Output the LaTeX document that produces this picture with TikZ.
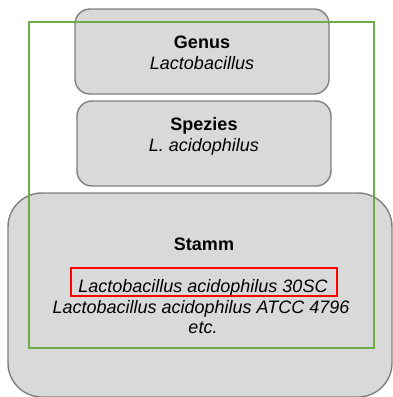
\documentclass[tikz,border=0pt]{standalone}
\usepackage{fontspec}
\setmainfont{Liberation Sans}
\definecolor{tierfill}{HTML}{D9D9D9}
\definecolor{tierline}{HTML}{7F7F7F}
\definecolor{frameGreen}{HTML}{70AD47}
\definecolor{markRed}{HTML}{FF0000}
\begin{document}
\begin{tikzpicture}[x=1pt,y=-1pt,
  tier/.style={draw=tierline, fill=tierfill, line width=1.4pt,
    rounded corners=#1, inner sep=0pt, outer sep=0pt, anchor=north west},
  caption/.style={anchor=base, inner sep=0pt,
    font=\fontsize{18}{20.5}\selectfont},
  frame/.style={draw=#1, line width=1.4pt, inner sep=0pt, outer sep=0pt,
    anchor=north west}]
  \useasboundingbox (0,0) rectangle (393,397);

  % taxonomic tiers
  \node[tier=15pt, minimum width=254pt, minimum height=85pt] (genus) at (75,9) {};
  \node[tier=15pt, minimum width=254pt, minimum height=85pt] (spezies) at (77,101) {};
  \node[tier=34pt, minimum width=384pt, minimum height=204pt] (stamm) at (8,193) {};

  % labels
  \node[caption] (genusT) at (202,48) {\bfseries Genus};
  \node[caption] (genusN) at (202,69) {\itshape Lactobacillus};
  \node[caption] (speziesT) at (204,130) {\bfseries Spezies};
  \node[caption] (speziesN) at (204,151) {\itshape L. acidophilus};
  \node[caption] (stammT) at (204,250) {\bfseries Stamm};
  \node[caption] (stammA) at (203,292) {\itshape Lactobacillus acidophilus 30SC};
  \node[caption] (stammB) at (201,313) {\itshape Lactobacillus acidophilus ATCC 4796};
  \node[caption] (stammC) at (203,333) {\itshape etc.};

  % outline frame and highlight
  \node[frame=frameGreen, minimum width=345pt, minimum height=326pt] (outline) at (29,22) {};
  \node[frame=markRed, line width=1.2pt, minimum width=266pt, minimum height=28pt] (highlight) at (71,268) {};
\end{tikzpicture}
\end{document}
